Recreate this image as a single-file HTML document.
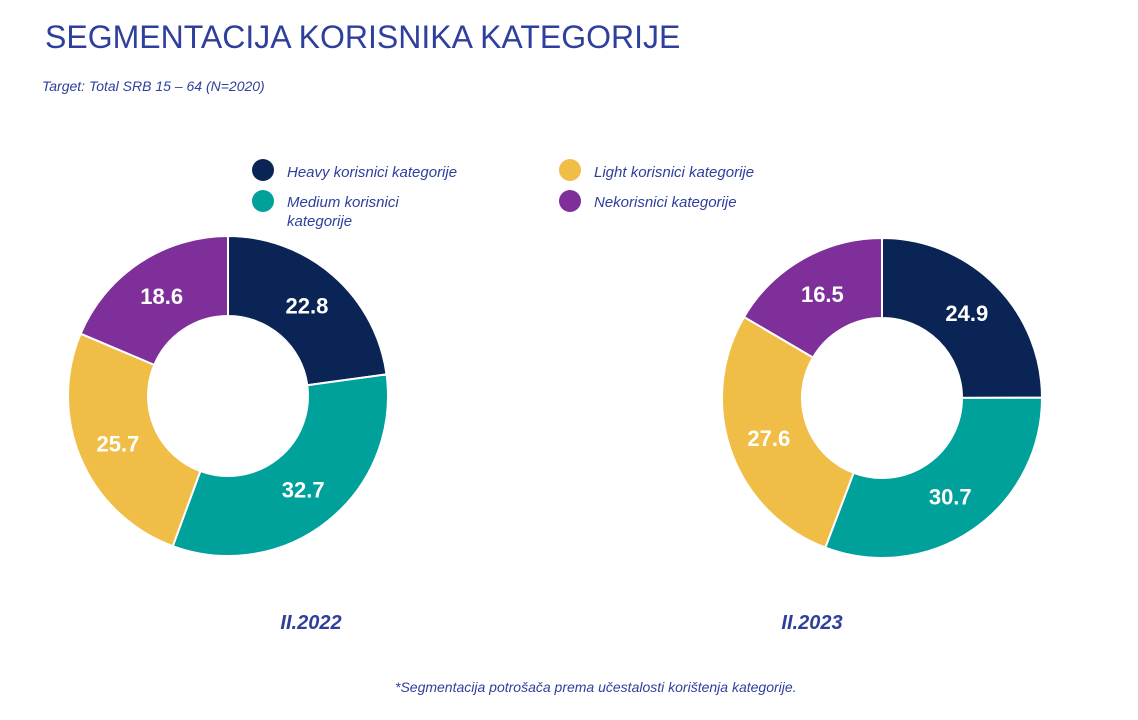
<!DOCTYPE html>
<html><head><meta charset="utf-8">
<style>
body{margin:0;width:1138px;height:720px;background:#fff;overflow:hidden;font-family:"Liberation Sans",Arial,sans-serif;}
svg{position:absolute;left:0;top:0}
</style></head>
<body>
<svg width="1138" height="720" id="chart">
<text x="45" y="48" font-size="32" fill="#2e3f9c">SEGMENTACIJA KORISNIKA KATEGORIJE</text>
<text x="42" y="91" font-size="14" font-style="italic" fill="#2e3f9c">Target: Total SRB 15 – 64 (N=2020)</text>
<g>
<g><circle cx="263" cy="170" r="11" fill="#0b2456"/><text x="287" y="177" font-size="15" font-style="italic" fill="#2e3f9c">Heavy korisnici kategorije</text></g>
<g><circle cx="263" cy="201" r="11" fill="#00a09b"/><text x="287" y="207" font-size="15" font-style="italic" fill="#2e3f9c">Medium korisnici</text><text x="287" y="226" font-size="15" font-style="italic" fill="#2e3f9c">kategorije</text></g>
<g><circle cx="570" cy="170" r="11" fill="#f0bd47"/><text x="594" y="177" font-size="15" font-style="italic" fill="#2e3f9c">Light korisnici kategorije</text></g>
<g><circle cx="570" cy="201" r="11" fill="#7f2f9a"/><text x="594" y="207" font-size="15" font-style="italic" fill="#2e3f9c">Nekorisnici kategorije</text></g>
</g>
<g id="donuts"></g>
<text x="311" y="629" font-size="20" font-weight="bold" font-style="italic" fill="#2e3f9c" text-anchor="middle">II.2022</text>
<text x="812" y="629" font-size="20" font-weight="bold" font-style="italic" fill="#2e3f9c" text-anchor="middle">II.2023</text>
<text x="395" y="692" font-size="14" font-style="italic" fill="#2e3f9c">*Segmentacija potrošača prema učestalosti korištenja kategorije.</text>
</svg>
<script>
const categories=["Heavy","Medium","Light","Nekorisnici"];
const values2022=[22.8,32.7,25.7,18.6];
const values2023=[24.9,30.7,27.6,16.5];
const colors=["#0b2456","#00a09b","#f0bd47","#7f2f9a"];
const NS="http://www.w3.org/2000/svg";
const g=document.getElementById("donuts");
function pt(cx,cy,r,a){return [cx+r*Math.sin(a),cy-r*Math.cos(a)];}
function donut(vals,cx,cy,R,r0,name){
  const tot=vals.reduce((a,b)=>a+b,0);let a0=0;
  vals.forEach((v,i)=>{
    const a1=a0+v/tot*2*Math.PI;const lg=(a1-a0)>Math.PI?1:0;
    const p1=pt(cx,cy,R,a0),p2=pt(cx,cy,R,a1),p3=pt(cx,cy,r0,a1),p4=pt(cx,cy,r0,a0);
    const p=document.createElementNS(NS,"path");
    p.setAttribute("d",`M${p1}A${R},${R} 0 ${lg} 1 ${p2}L${p3}A${r0},${r0} 0 ${lg} 0 ${p4}Z`);
    p.setAttribute("fill",colors[i]);p.setAttribute("stroke","#fff");p.setAttribute("stroke-width","2");
    
    
    g.appendChild(p);
    const m=pt(cx,cy,(R+r0)/2,(a0+a1)/2);
    const t=document.createElementNS(NS,"text");
    t.setAttribute("x",m[0]);t.setAttribute("y",m[1]+8);t.setAttribute("text-anchor","middle");
    t.setAttribute("font-size","22");t.setAttribute("font-weight","bold");t.setAttribute("fill","#fff");
    t.textContent=v.toFixed(1);
    
    
    g.appendChild(t);
    a0=a1;
  });
}
donut(values2022,228,396,160,80,"donut-2022");
donut(values2023,882,398,160,80,"donut-2023");
</script>
</body></html>
